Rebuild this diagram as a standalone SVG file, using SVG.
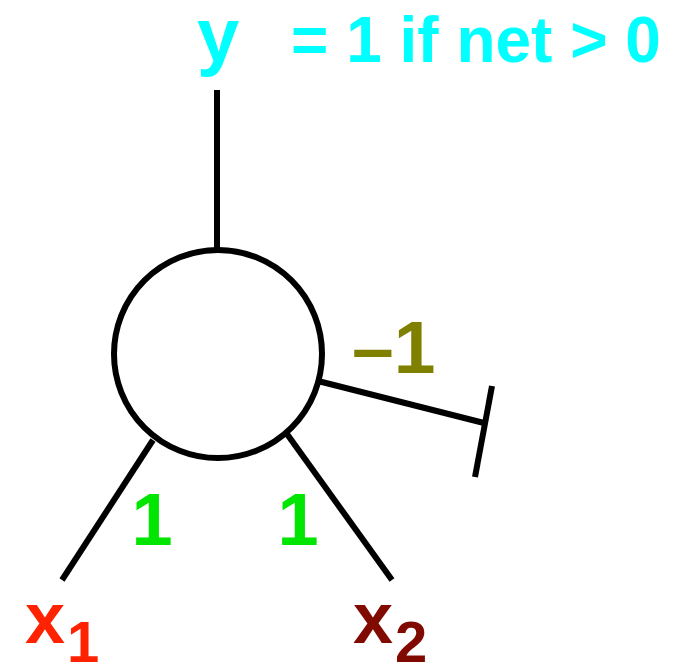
<svg xmlns="http://www.w3.org/2000/svg" width="683" height="665" viewBox="0 0 683 665">
<style>
.ln{stroke:#000;stroke-width:6;fill:none;stroke-linecap:butt}
text{font-family:"Liberation Sans",Arial,sans-serif;font-weight:bold}
.w{fill:#00e600;font-size:74px;text-anchor:middle}
</style>
<rect width="683" height="665" fill="#fff"/>
<g id="output">
<text x="197" y="61" font-size="76" fill="#00ffff">y</text>
<text x="291" y="62" font-size="64" fill="#00ffff">= 1 if net &gt; 0</text>
</g>
<g id="neuron">
<circle cx="218" cy="354" r="104" class="ln"/>
</g>
<g id="x1">
<text x="25" y="643" font-size="72" fill="#ff2200">x<tspan font-size="58" dy="19" dx="2">1</tspan></text>
</g>
<g id="x2">
<text x="353" y="643" font-size="72" fill="#800a00">x<tspan font-size="58" dy="19" dx="2">2</tspan></text>
</g>
<g id="connectors">
<line x1="217" y1="90" x2="217" y2="250" class="ln"/>
<line x1="153" y1="440" x2="62" y2="580" class="ln"/>
<line x1="287" y1="434" x2="392" y2="580" class="ln"/>
<line x1="318" y1="381" x2="484" y2="423" class="ln"/>
<line x1="492" y1="386" x2="475" y2="477" class="ln"/>
</g>
<g id="weights">
<text x="152" y="545" class="w">1</text>
<text x="298" y="545" class="w">1</text>
<text x="352" y="373" font-size="75" fill="#808000">–1</text>
</g>
</svg>
